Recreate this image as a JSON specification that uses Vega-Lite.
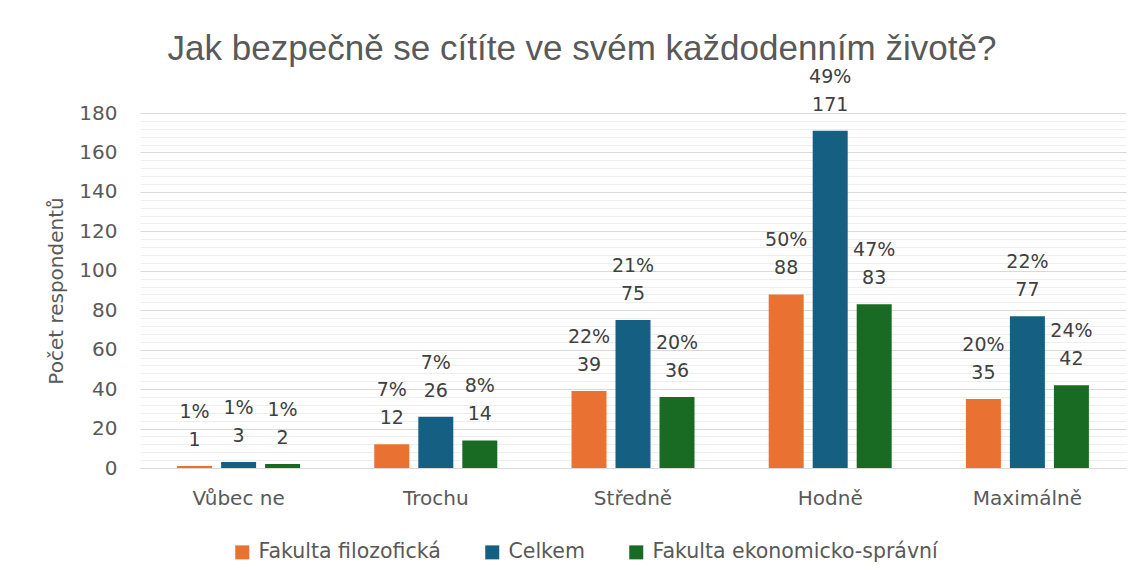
{
  "$schema": "https://vega.github.io/schema/vega-lite/v6.json",
  "width": 986,
  "height": 355,
  "autosize": {"type": "none"},
  "padding": {"left": 140, "top": 113, "right": 17, "bottom": 115},
  "background": "white",
  "title": {
    "text": "Jak bezpečně se cítíte ve svém každodenním životě?",
    "font": "Liberation Sans",
    "fontSize": 35,
    "fontWeight": "normal",
    "color": "#595959",
    "anchor": "middle",
    "frame": "group",
    "dx": -51,
    "baseline": "alphabetic",
    "offset": -27
  },
  "data": {
    "values": [
      {"kategorie": "Vůbec ne", "skupina": "Fakulta filozofická", "pocet": 1, "podil": "1%"},
      {"kategorie": "Vůbec ne", "skupina": "Celkem", "pocet": 3, "podil": "1%"},
      {"kategorie": "Vůbec ne", "skupina": "Fakulta ekonomicko-správní", "pocet": 2, "podil": "1%"},
      {"kategorie": "Trochu", "skupina": "Fakulta filozofická", "pocet": 12, "podil": "7%"},
      {"kategorie": "Trochu", "skupina": "Celkem", "pocet": 26, "podil": "7%"},
      {"kategorie": "Trochu", "skupina": "Fakulta ekonomicko-správní", "pocet": 14, "podil": "8%"},
      {"kategorie": "Středně", "skupina": "Fakulta filozofická", "pocet": 39, "podil": "22%"},
      {"kategorie": "Středně", "skupina": "Celkem", "pocet": 75, "podil": "21%"},
      {"kategorie": "Středně", "skupina": "Fakulta ekonomicko-správní", "pocet": 36, "podil": "20%"},
      {"kategorie": "Hodně", "skupina": "Fakulta filozofická", "pocet": 88, "podil": "50%"},
      {"kategorie": "Hodně", "skupina": "Celkem", "pocet": 171, "podil": "49%"},
      {"kategorie": "Hodně", "skupina": "Fakulta ekonomicko-správní", "pocet": 83, "podil": "47%"},
      {"kategorie": "Maximálně", "skupina": "Fakulta filozofická", "pocet": 35, "podil": "20%"},
      {"kategorie": "Maximálně", "skupina": "Celkem", "pocet": 77, "podil": "22%"},
      {"kategorie": "Maximálně", "skupina": "Fakulta ekonomicko-správní", "pocet": 42, "podil": "24%"}
    ]
  },
  "encoding": {
    "x": {
      "field": "kategorie",
      "type": "nominal",
      "sort": ["Vůbec ne", "Trochu", "Středně", "Hodně", "Maximálně"],
      "scale": {"paddingInner": 0, "paddingOuter": 0},
      "axis": {
        "title": null,
        "labelAngle": 0,
        "labelFont": "DejaVu Sans",
        "labelFontSize": 20,
        "labelColor": "#595959",
        "labelPadding": 20,
        "ticks": false,
        "domain": true,
        "domainColor": "#D9D9D9",
        "domainWidth": 1
      }
    },
    "xOffset": {
      "field": "skupina",
      "type": "nominal",
      "sort": ["Fakulta filozofická", "Celkem", "Fakulta ekonomicko-správní"],
      "scale": {"paddingInner": 0.2045, "paddingOuter": 0.843}
    }
  },
  "layer": [
    {
      "mark": {"type": "bar"},
      "encoding": {
        "y": {
          "field": "pocet",
          "type": "quantitative",
          "scale": {"domain": [0, 180], "nice": false},
          "axis": {
            "values": [0, 20, 40, 60, 80, 100, 120, 140, 160, 180],
            "grid": true,
            "gridColor": "#D9D9D9",
            "gridWidth": 1,
            "domain": false,
            "ticks": false,
            "labelFont": "DejaVu Sans",
            "labelFontSize": 20,
            "labelColor": "#595959",
            "labelPadding": 23,
            "title": "Počet respondentů",
            "titleFont": "DejaVu Sans",
            "titleFontSize": 20,
            "titleFontWeight": "normal",
            "titleColor": "#595959",
            "titlePadding": 12
          }
        },
        "color": {
          "field": "skupina",
          "type": "nominal",
          "sort": ["Fakulta filozofická", "Celkem", "Fakulta ekonomicko-správní"],
          "scale": {
            "domain": ["Fakulta filozofická", "Celkem", "Fakulta ekonomicko-správní"],
            "range": ["#E97132", "#156082", "#196B24"]
          },
          "legend": {
            "title": null,
            "orient": "none",
            "direction": "horizontal",
            "legendX": 92,
            "legendY": 429,
            "symbolType": "square",
            "symbolSize": 196,
            "symbolStrokeWidth": 0,
            "labelFont": "DejaVu Sans",
            "labelFontSize": 20.5,
            "labelColor": "#595959",
            "labelOffset": 6,
            "columnPadding": 41,
            "labelLimit": 400
          }
        }
      }
    },
    {
      "mark": {"type": "text", "font": "DejaVu Sans", "fontSize": 19, "color": "#404040", "baseline": "alphabetic", "dy": -20},
      "encoding": {
        "y": {
          "field": "pocet",
          "type": "quantitative",
          "axis": {
            "orient": "right",
            "values": [4, 8, 12, 16, 24, 28, 32, 36, 44, 48, 52, 56, 64, 68, 72, 76, 84, 88, 92, 96, 104, 108, 112, 116, 124, 128, 132, 136, 144, 148, 152, 156, 164, 168, 172, 176],
            "grid": true,
            "gridColor": "#EEEEEE",
            "gridWidth": 1,
            "labels": false,
            "ticks": false,
            "domain": false,
            "title": null
          }
        },
        "text": {"field": "pocet", "type": "quantitative"}
      }
    },
    {
      "mark": {"type": "text", "font": "DejaVu Sans", "fontSize": 19, "color": "#404040", "baseline": "alphabetic", "dy": -48},
      "encoding": {
        "y": {"field": "pocet", "type": "quantitative", "axis": null},
        "text": {"field": "podil", "type": "nominal"}
      }
    }
  ],
  "resolve": {"axis": {"y": "independent"}},
  "config": {"view": {"stroke": null}}
}
